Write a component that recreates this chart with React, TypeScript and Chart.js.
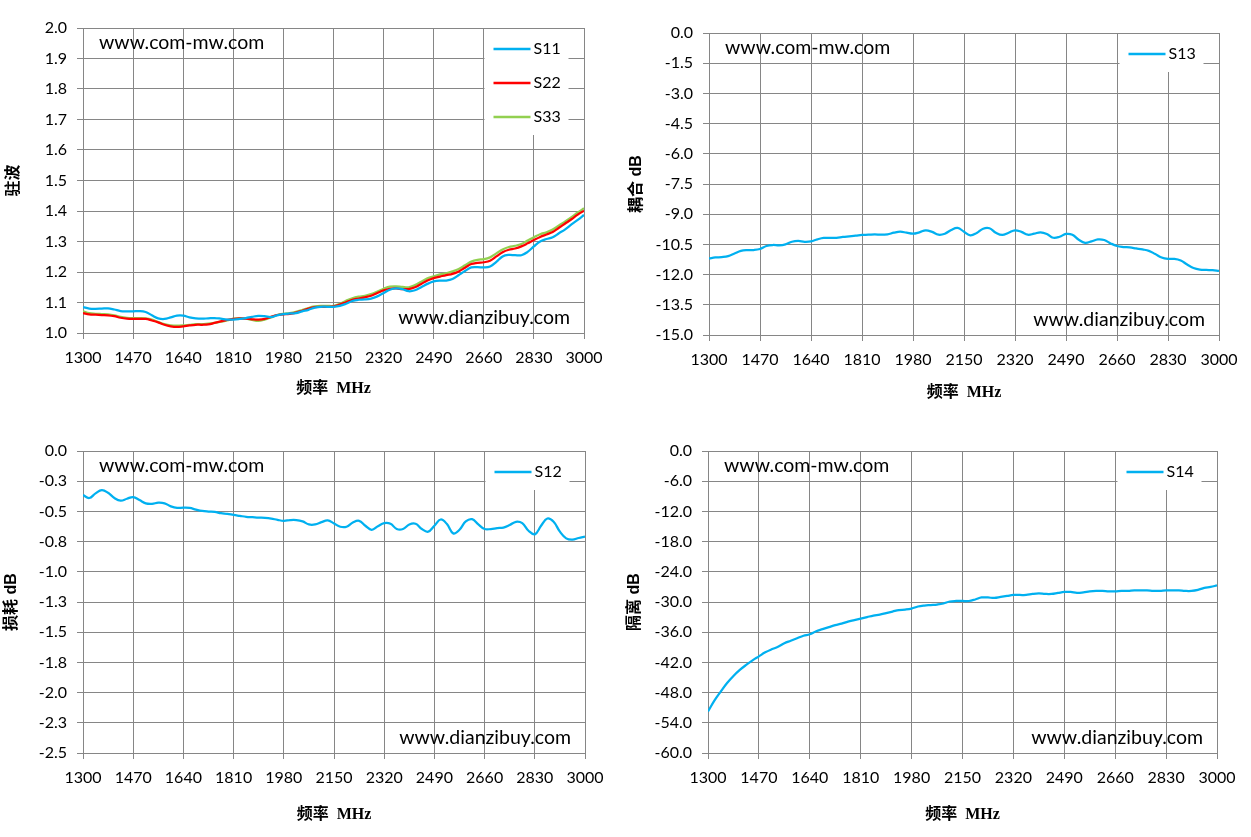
import { useEffect, useRef } from 'react';
import Chart from 'chart.js/auto';

// frequency points (MHz)
const freqMHz = [
  1300, 1321.25, 1342.5, 1363.75, 1385, 1406.25, 1427.5, 1448.75,
  1470, 1491.25, 1512.5, 1533.75, 1555, 1576.25, 1597.5, 1618.75,
  1640, 1661.25, 1682.5, 1703.75, 1725, 1746.25, 1767.5, 1788.75,
  1810, 1831.25, 1852.5, 1873.75, 1895, 1916.25, 1937.5, 1958.75,
  1980, 2001.25, 2022.5, 2043.75, 2065, 2086.25, 2107.5, 2128.75,
  2150, 2171.25, 2192.5, 2213.75, 2235, 2256.25, 2277.5, 2298.75,
  2320, 2341.25, 2362.5, 2383.75, 2405, 2426.25, 2447.5, 2468.75,
  2490, 2511.25, 2532.5, 2553.75, 2575, 2596.25, 2617.5, 2638.75,
  2660, 2681.25, 2702.5, 2723.75, 2745, 2766.25, 2787.5, 2808.75,
  2830, 2851.25, 2872.5, 2893.75, 2915, 2936.25, 2957.5, 2978.75,
  3000,
];

// VSWR
const s11 = [
  1.085, 1.080, 1.079, 1.080, 1.081, 1.077, 1.072, 1.071,
  1.071, 1.072, 1.069, 1.058, 1.048, 1.046, 1.051, 1.057,
  1.057, 1.051, 1.048, 1.047, 1.048, 1.049, 1.047, 1.044,
  1.044, 1.046, 1.049, 1.053, 1.056, 1.055, 1.052, 1.058,
  1.062, 1.064, 1.065, 1.071, 1.076, 1.083, 1.086, 1.086,
  1.086, 1.089, 1.096, 1.105, 1.109, 1.110, 1.113, 1.120,
  1.131, 1.142, 1.146, 1.144, 1.137, 1.140, 1.150, 1.161,
  1.169, 1.172, 1.172, 1.177, 1.190, 1.203, 1.215, 1.216,
  1.215, 1.218, 1.233, 1.251, 1.256, 1.255, 1.255, 1.266,
  1.284, 1.300, 1.308, 1.314, 1.327, 1.340, 1.356, 1.371,
  1.387,
];
const s22 = [
  1.065, 1.061, 1.060, 1.059, 1.058, 1.055, 1.050, 1.047,
  1.046, 1.046, 1.046, 1.041, 1.035, 1.027, 1.022, 1.020,
  1.022, 1.025, 1.027, 1.027, 1.028, 1.033, 1.038, 1.043,
  1.046, 1.048, 1.047, 1.045, 1.044, 1.046, 1.053, 1.059,
  1.061, 1.063, 1.067, 1.073, 1.080, 1.085, 1.086, 1.086,
  1.087, 1.093, 1.101, 1.109, 1.113, 1.117, 1.122, 1.131,
  1.140, 1.145, 1.146, 1.144, 1.144, 1.150, 1.161, 1.172,
  1.180, 1.185, 1.190, 1.194, 1.202, 1.214, 1.226, 1.230,
  1.232, 1.237, 1.251, 1.265, 1.273, 1.277, 1.284, 1.294,
  1.305, 1.315, 1.323, 1.331, 1.345, 1.359, 1.373, 1.388,
  1.401,
];
const s33 = [
  1.071, 1.065, 1.063, 1.062, 1.061, 1.058, 1.053, 1.050,
  1.049, 1.049, 1.048, 1.044, 1.036, 1.029, 1.025, 1.024,
  1.025, 1.027, 1.029, 1.029, 1.031, 1.033, 1.037, 1.041,
  1.047, 1.049, 1.047, 1.043, 1.040, 1.044, 1.051, 1.059,
  1.063, 1.065, 1.069, 1.075, 1.082, 1.087, 1.089, 1.089,
  1.089, 1.096, 1.106, 1.114, 1.119, 1.122, 1.128, 1.136,
  1.145, 1.152, 1.153, 1.151, 1.150, 1.157, 1.168, 1.179,
  1.186, 1.192, 1.196, 1.202, 1.210, 1.222, 1.234, 1.240,
  1.242, 1.248, 1.261, 1.274, 1.282, 1.286, 1.292, 1.303,
  1.314, 1.324, 1.330, 1.339, 1.353, 1.366, 1.380, 1.395,
  1.409,
];

// coupling dB
const s13 = [
  -11.20, -11.15, -11.13, -11.08, -10.95, -10.82, -10.78, -10.78,
  -10.73, -10.58, -10.53, -10.55, -10.50, -10.37, -10.33, -10.37,
  -10.35, -10.25, -10.18, -10.18, -10.17, -10.13, -10.10, -10.07,
  -10.03, -10.02, -10.00, -10.02, -10.00, -9.92, -9.87, -9.92,
  -9.97, -9.90, -9.80, -9.88, -10.02, -9.97, -9.78, -9.68,
  -9.87, -10.05, -9.93, -9.72, -9.70, -9.92, -10.03, -9.92,
  -9.80, -9.88, -10.02, -9.97, -9.90, -9.98, -10.17, -10.12,
  -9.98, -10.02, -10.27, -10.42, -10.35, -10.25, -10.28, -10.45,
  -10.58, -10.63, -10.65, -10.70, -10.75, -10.82, -10.98, -11.15,
  -11.22, -11.22, -11.30, -11.50, -11.67, -11.75, -11.77, -11.78,
  -11.82,
];

// insertion loss dB
const s12 = [
  -0.365, -0.389, -0.351, -0.324, -0.346, -0.389, -0.411, -0.395,
  -0.381, -0.406, -0.433, -0.437, -0.428, -0.433, -0.458, -0.471,
  -0.469, -0.471, -0.485, -0.496, -0.501, -0.504, -0.515, -0.520,
  -0.529, -0.537, -0.545, -0.548, -0.551, -0.553, -0.559, -0.570,
  -0.578, -0.572, -0.572, -0.583, -0.608, -0.608, -0.589, -0.575,
  -0.600, -0.627, -0.627, -0.592, -0.578, -0.619, -0.652, -0.623,
  -0.597, -0.602, -0.646, -0.646, -0.608, -0.602, -0.646, -0.668,
  -0.619, -0.567, -0.605, -0.682, -0.652, -0.583, -0.564, -0.608,
  -0.646, -0.646, -0.638, -0.634, -0.613, -0.586, -0.597, -0.660,
  -0.690, -0.619, -0.559, -0.586, -0.668, -0.723, -0.734, -0.720,
  -0.709,
];

// isolation dB
const s14 = [
  -51.75, -49.6, -47.8, -46.1, -44.7, -43.5, -42.5, -41.6,
  -40.8, -40.0, -39.4, -38.9, -38.2, -37.7, -37.2, -36.7,
  -36.4, -35.8, -35.4, -35.0, -34.6, -34.3, -33.9, -33.6,
  -33.3, -33.0, -32.7, -32.5, -32.2, -31.9, -31.6, -31.5,
  -31.3, -30.9, -30.7, -30.6, -30.5, -30.3, -29.9, -29.8,
  -29.8, -29.8, -29.5, -29.1, -29.1, -29.2, -29.0, -28.8,
  -28.6, -28.6, -28.6, -28.4, -28.3, -28.4, -28.4, -28.2,
  -28.0, -28.0, -28.2, -28.1, -27.9, -27.8, -27.8, -27.9,
  -27.9, -27.8, -27.8, -27.7, -27.7, -27.7, -27.8, -27.8,
  -27.7, -27.7, -27.7, -27.8, -27.8, -27.6, -27.2, -27.0,
  -26.7,
];

// tick values
const xTicks = [1300, 1470, 1640, 1810, 1980, 2150, 2320, 2490, 2660, 2830, 3000];
const vswrTicks = [1.0, 1.1, 1.2, 1.3, 1.4, 1.5, 1.6, 1.7, 1.8, 1.9, 2.0];
const couplingTicks = [-15, -13.5, -12, -10.5, -9, -7.5, -6, -4.5, -3, -1.5, 0];
const lossTicks = [-2.5, -2.25, -2, -1.75, -1.5, -1.25, -1, -0.75, -0.5, -0.25, 0];
const isolationTicks = [-60, -54, -48, -42, -36, -30, -24, -18, -12, -6, 0];

const BLUE = '#00B0F0';
const RED = '#FF0000';
const GREEN = '#92D050';
const GRID = '#868686';
const X_TITLE = '频率  MHz';

type Series = { label: string; values: number[]; color: string };

type PanelProps = {
  left: number;
  top: number;
  width: number;
  height: number;
  area: { l: number; r: number; t: number; b: number };
  yTicks: number[];
  yTitle: string;
  yTitlePad: number;
  xTitlePad: number;
  series: Series[];
};

const overlayPlugin = {
  id: 'overlay',
  afterDraw(chart: any) {
    const { ctx, chartArea: a } = chart;
    ctx.save();
    ctx.fillStyle = '#000';
    ctx.font = '19.5px Lato';
    ctx.textBaseline = 'middle';
    ctx.textAlign = 'left';
    ctx.fillText('www.com-mw.com', a.left + 16, a.top + 15);
    ctx.textAlign = 'right';
    ctx.fillText('www.dianzibuy.com', a.right - 14, a.bottom - 15.5);

    // legend box inside the plot, top right
    const sets = chart.data.datasets;
    const bw = 84;
    const bx = a.right - 15.5 - bw;
    const by = a.top + 1;
    const bh = 34 * sets.length + 4;
    ctx.fillStyle = '#fff';
    ctx.fillRect(bx, by, bw, bh);
    sets.forEach((ds: any, i: number) => {
      const y = a.top + 21 + 34 * i;
      ctx.strokeStyle = ds.borderColor;
      ctx.lineWidth = 2.5;
      ctx.beginPath();
      ctx.moveTo(bx + 9, y);
      ctx.lineTo(bx + 46, y);
      ctx.stroke();
      ctx.fillStyle = '#000';
      ctx.font = '16px Lato';
      ctx.textAlign = 'left';
      ctx.fillText(ds.label, bx + 49, y);
    });
    ctx.restore();
  },
};

function Panel(p: PanelProps) {
  const chartRef = useRef<HTMLCanvasElement>(null);
  const chartInstance = useRef<Chart | null>(null);

  useEffect(() => {
    if (!chartRef.current) return;
    if (chartInstance.current) {
      chartInstance.current.destroy();
    }
    const ctx = chartRef.current.getContext('2d');
    if (!ctx) return;

    const tickFont = { family: 'Lato', size: 16 };

    chartInstance.current = new Chart(ctx, {
      type: 'line',
      data: {
        datasets: p.series.map((s) => ({
          label: s.label,
          data: s.values.map((v, i) => ({ x: freqMHz[i], y: v })),
          borderColor: s.color,
          backgroundColor: s.color,
          borderWidth: 2.25,
          pointRadius: 0,
          tension: 0.4,
          fill: false,
        })),
      },
      options: {
        responsive: false,
        animation: false,
        layout: {
          padding: { left: 0, top: p.area.t, right: p.width - p.area.r, bottom: 0 },
        },
        plugins: {
          legend: { display: false },
          tooltip: { enabled: false },
        },
        scales: {
          x: {
            type: 'linear',
            min: xTicks[0],
            max: xTicks[xTicks.length - 1],
            afterBuildTicks: (s: any) => {
              s.ticks = xTicks.map((v) => ({ value: v }));
            },
            afterFit: (s: any) => {
              s.height = p.height - p.area.b;
            },
            grid: { color: GRID, lineWidth: 1, tickLength: 6, drawTicks: true },
            border: { color: GRID, width: 1 },
            ticks: {
              font: tickFont,
              color: '#000',
              padding: 9,
              maxRotation: 0,
              autoSkip: false,
              callback: (v: any) => String(v),
            },
            title: {
              display: true,
              text: X_TITLE,
              color: '#000',
              font: { family: "'Liberation Serif', 'Noto Sans CJK SC'", size: 16, weight: 'bold' },
              padding: { top: 0, bottom: p.xTitlePad },
            },
          },
          y: {
            type: 'linear',
            min: p.yTicks[0],
            max: p.yTicks[p.yTicks.length - 1],
            afterBuildTicks: (s: any) => {
              s.ticks = p.yTicks.map((v) => ({ value: v }));
            },
            afterFit: (s: any) => {
              s.width = p.area.l;
            },
            grid: { color: GRID, lineWidth: 1, tickLength: 6, drawTicks: true },
            border: { color: GRID, width: 1 },
            ticks: {
              font: tickFont,
              color: '#000',
              padding: 10,
              autoSkip: false,
              callback: (v: any) => Number(v).toFixed(1),
            },
            title: {
              display: true,
              text: p.yTitle,
              color: '#000',
              font: { family: "'Liberation Sans', 'Noto Sans CJK SC'", size: 16, weight: 'bold' },
              padding: { top: p.yTitlePad, bottom: 0 },
            },
          },
        },
      },
      plugins: [overlayPlugin],
    } as any);

    return () => {
      if (chartInstance.current) {
        chartInstance.current.destroy();
        chartInstance.current = null;
      }
    };
  }, []);

  return (
    <canvas
      ref={chartRef}
      width={p.width}
      height={p.height}
      style={{ position: 'absolute', left: p.left, top: p.top, width: p.width, height: p.height }}
    />
  );
}

export default function App() {
  return (
    <div
      style={{
        position: 'absolute',
        left: 0,
        top: 0,
        width: 1251,
        height: 837,
        background: '#fff',
        overflow: 'hidden',
      }}
    >
      <Panel
        left={0}
        top={0}
        width={625}
        height={418}
        area={{ l: 83, r: 584, t: 28, b: 333 }}
        yTicks={vswrTicks}
        yTitle="驻波"
        yTitlePad={4}
        xTitlePad={20}
        series={[
          { label: 'S11', values: s11, color: BLUE },
          { label: 'S22', values: s22, color: RED },
          { label: 'S33', values: s33, color: GREEN },
        ]}
      />
      <Panel
        left={625}
        top={0}
        width={626}
        height={418}
        area={{ l: 84, r: 594, t: 33, b: 335 }}
        yTicks={couplingTicks}
        yTitle="耦合 dB"
        yTitlePad={2}
        xTitlePad={16}
        series={[{ label: 'S13', values: s13, color: BLUE }]}
      />
      <Panel
        left={0}
        top={418}
        width={625}
        height={419}
        area={{ l: 83, r: 585, t: 33, b: 335 }}
        yTicks={lossTicks}
        yTitle="损耗 dB"
        yTitlePad={2}
        xTitlePad={13}
        series={[{ label: 'S12', values: s12, color: BLUE }]}
      />
      <Panel
        left={625}
        top={418}
        width={626}
        height={419}
        area={{ l: 83, r: 592, t: 33, b: 335 }}
        yTicks={isolationTicks}
        yTitle="隔离 dB"
        yTitlePad={0}
        xTitlePad={13}
        series={[{ label: 'S14', values: s14, color: BLUE }]}
      />
    </div>
  );
}
